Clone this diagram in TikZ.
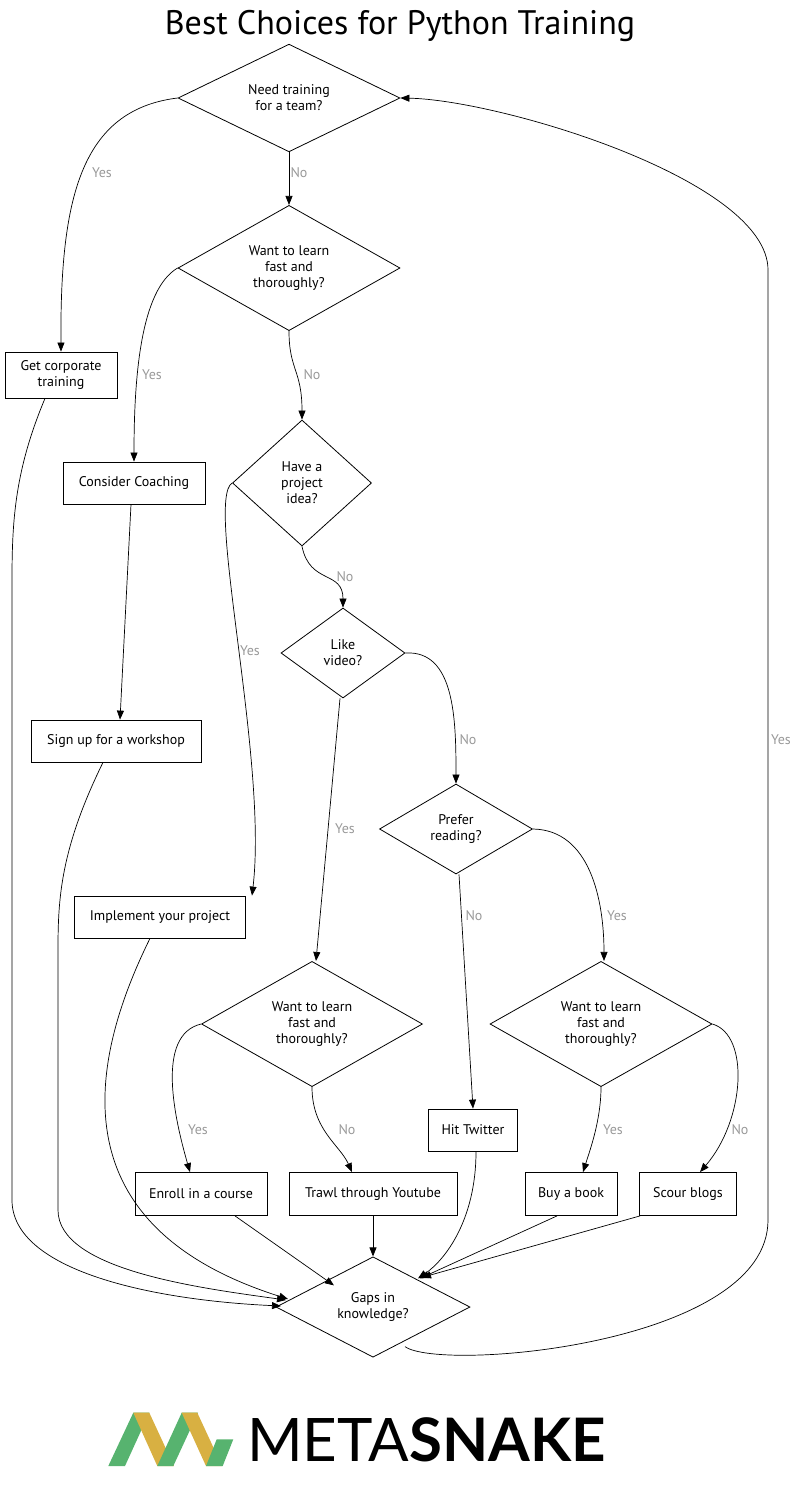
\documentclass[tikz,border=0pt]{standalone}
\usepackage{fontspec}
\setmainfont{PT Sans}
\newfontfamily\logofont{Lato}
\usetikzlibrary{shapes.geometric,arrows.meta}
\begin{document}
\begin{tikzpicture}[x=1pt,y=-1pt,
  every node/.style={font=\fontsize{14}{16}\selectfont, align=center},
  dec/.style={draw, shape=diamond, inner sep=0pt, line width=0.8pt},
  box/.style={draw, rectangle, line width=0.8pt, inner sep=0pt},
  lab/.style={text=gray!80, font=\fontsize{14}{16}\selectfont},
  arr/.style={-{Triangle[length=9pt,width=7pt]}, line width=0.7pt}]
\useasboundingbox (0,0) rectangle (800,1487);
\node (title) at (400,26) {\fontsize{34}{38}\selectfont Best Choices for Python Training};

\node[dec, minimum width=222, minimum height=90] (d1) at (289,98) {Need training\\for a team?};
\node[dec, minimum width=222, minimum height=125] (d2) at (289,268) {Want to learn\\fast and\\thoroughly?};
\node[box, minimum width=112, minimum height=46] (b1) at (61,375) {Get corporate\\training};
\node[dec, minimum width=139, minimum height=126] (d3) at (302,483) {Have a\\project\\idea?};
\node[box, minimum width=142, minimum height=42] (b2) at (134,483) {Consider Coaching};
\node[dec, minimum width=124, minimum height=90] (d4) at (343,653) {Like\\video?};
\node[box, minimum width=170, minimum height=42] (b3) at (116,741) {Sign up for a workshop};
\node[dec, minimum width=153, minimum height=90] (d5) at (456,829) {Prefer\\reading?};
\node[box, minimum width=171, minimum height=42] (b4) at (160,917) {Implement your project};
\node[dec, minimum width=221, minimum height=124] (d6) at (312,1024) {Want to learn\\fast and\\thoroughly?};
\node[dec, minimum width=222, minimum height=124] (d7) at (601,1024) {Want to learn\\fast and\\thoroughly?};
\node[box, minimum width=89, minimum height=42] (tw) at (473,1130) {Hit Twitter};
\node[box, minimum width=132, minimum height=43] (en) at (201,1194) {Enroll in a course};
\node[box, minimum width=168, minimum height=43] (yt) at (373,1194) {Trawl through Youtube};
\node[box, minimum width=92, minimum height=43] (bk) at (571,1194) {Buy a book};
\node[box, minimum width=97, minimum height=43] (bl) at (688,1194) {Scour blogs};
\node[dec, minimum width=194, minimum height=89] (d8) at (373,1307) {Gaps in\\knowledge?};

% edges
\draw[arr] (d1.west) .. controls (80,110) and (60,200) .. (b1.north);
\node[lab] (l1) at (102,173) {Yes};
\draw[arr] (d1.south) -- (d2.north);
\node[lab] (l2) at (299,173) {No};
\draw[arr] (d2.west) .. controls (140,290) and (134,380) .. (b2.north);
\node[lab] (l3) at (152,375) {Yes};
\draw[arr] (d2.south) .. controls (289,370) and (302,370) .. (d3.north);
\node[lab] (l4) at (312,375) {No};
\draw[arr] ([xshift=-3pt]b2.south) -- ([xshift=4pt]b3.north);
\draw[arr] (d3.west) .. controls (205,500) and (268,760) .. ([xshift=92pt]b4.north);
\node[lab] (l5) at (250,651) {Yes};
\draw[arr] (d3.south) .. controls (310,585) and (343,570) .. (d4.north);
\node[lab] (l6) at (345,577) {No};
\draw[arr] (d4.east) .. controls (455,650) and (456,720) .. (d5.north);
\node[lab] (l7) at (468,740) {No};
\draw[arr] ([xshift=-3pt]d4.south) -- ([xshift=4pt]d6.north);
\node[lab] (l8) at (345,829) {Yes};
\draw[arr] ([xshift=3pt]d5.south) -- (tw.north);
\node[lab] (l9) at (474,916) {No};
\draw[arr] (d5.east) .. controls (590,830) and (604,900) .. ([xshift=3pt]d7.north);
\node[lab] (l10) at (617,916) {Yes};
\draw[arr] (d6.west) .. controls (155,1035) and (175,1120) .. ([xshift=-11pt]en.north);
\node[lab] (l11) at (198,1130) {Yes};
\draw[arr] (d6.south) .. controls (312,1130) and (340,1145) .. ([xshift=-21pt]yt.north);
\node[lab] (l12) at (347,1130) {No};
\draw[arr] (d7.south) .. controls (601,1120) and (590,1150) .. ([xshift=12pt]bk.north);
\node[lab] (l13) at (613,1130) {Yes};
\draw[arr] (d7.east) .. controls (750,1035) and (745,1120) .. ([xshift=12pt]bl.north);
\node[lab] (l14) at (740,1130) {No};

\coordinate (g1) at (281,1306);
\coordinate (g2) at (286,1300);
\coordinate (g3) at (288,1299);
\draw[arr] ([xshift=-16pt]b1.south) .. controls (15,470) and (12,520) .. (12,580) -- (12,1200) .. controls (12,1270) and (150,1300) .. (g1);
\draw[arr] ([xshift=-13pt]b3.south) .. controls (60,850) and (58,900) .. (58,950) -- (58,1210) .. controls (58,1270) and (200,1288) .. (g2);
\draw[arr] ([xshift=-10pt]b4.south) .. controls (80,1080) and (70,1230) .. (g3);
\draw[arr] ([xshift=34pt]en.south) -- ([xshift=-39pt,yshift=-29pt]d8.north);
\draw[arr] (yt.south) -- (d8.north);
\draw[arr] ([xshift=3pt]tw.south) .. controls (476,1220) and (445,1260) .. ([xshift=45pt,yshift=-22pt]d8.north);
\draw[arr] ([xshift=-14pt]bk.south) -- ([xshift=47pt,yshift=-22pt]d8.north);
\draw[arr] ([xshift=-48pt]bl.south) -- ([xshift=49pt,yshift=-21pt]d8.north);
\draw[arr] ([xshift=32pt,yshift=11pt]d8.south) .. controls (440,1372) and (768,1345) .. (768,1220) -- (768,270) .. controls (768,180) and (500,100) .. (d1.east);
\node[lab] (l15) at (781,740) {Yes};

% logo
\definecolor{lgreen}{HTML}{57B36F}
\definecolor{lyellow}{HTML}{D8B042}
\fill[lgreen] (108.3,1466) -- (125,1466) -- (149.3,1412.7) -- (133.3,1412.7) -- cycle;
\fill[lyellow] (133.3,1412.7) -- (149.3,1412.7) -- (174,1466) -- (157.3,1466) -- cycle;
\fill[lgreen] (157.3,1466) -- (173.3,1466) -- (198,1412.7) -- (181.7,1412.7) -- cycle;
\fill[lyellow] (181.7,1412.7) -- (197.3,1412.7) -- (222,1466) -- (206,1466) -- cycle;
\fill[lgreen] (206,1466) -- (222.7,1466) -- (233.3,1439.3) -- (216.7,1439.3) -- cycle;
\node[anchor=west, inner sep=0pt] (logo) at (247,1440) {\logofont\fontsize{60}{60}\selectfont META\textbf{SNAKE}};
\end{tikzpicture}
\end{document}
